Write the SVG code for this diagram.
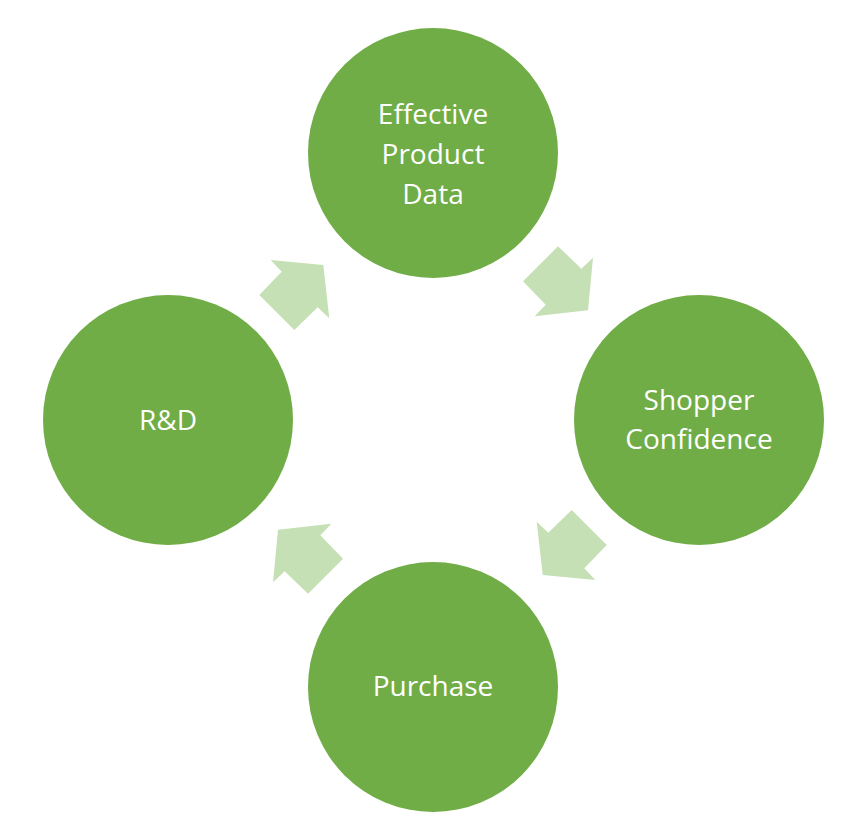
<svg xmlns="http://www.w3.org/2000/svg" width="868" height="840" viewBox="0 0 868 840">
<style>
.n{fill:#70ad47}
.t{fill:#fff;font-family:"Open Sans","Liberation Sans",sans-serif;font-size:28px;text-anchor:middle}
.a{fill:#c5e0b4}
</style>
<defs><polygon id="arr" points="270.7,260 281.7,271.7 259.3,295 294.3,330 317.7,307.3 329.3,318.3 323.3,265"/></defs>
<rect width="868" height="840" fill="#fff"/>
<g id="connectors">
<use href="#arr" class="a"/>
<use href="#arr" class="a" transform="rotate(90 433 420)"/>
<use href="#arr" class="a" transform="rotate(180 433 420)"/>
<use href="#arr" class="a" transform="rotate(270 433 420)"/>
</g>
<g id="n1"><circle class="n" cx="433" cy="153" r="125"/><text class="t" x="433" y="124">Effective</text><text class="t" x="433" y="164">Product</text><text class="t" x="433" y="204">Data</text></g>
<g id="n2"><circle class="n" cx="699" cy="420" r="125"/><text class="t" x="699" y="410">Shopper</text><text class="t" x="699" y="449">Confidence</text></g>
<g id="n3"><circle class="n" cx="433" cy="687" r="125"/><text class="t" x="433" y="696">Purchase</text></g>
<g id="n4"><circle class="n" cx="168" cy="420" r="125"/><text class="t" x="168" y="430">R&amp;D</text></g>
</svg>
